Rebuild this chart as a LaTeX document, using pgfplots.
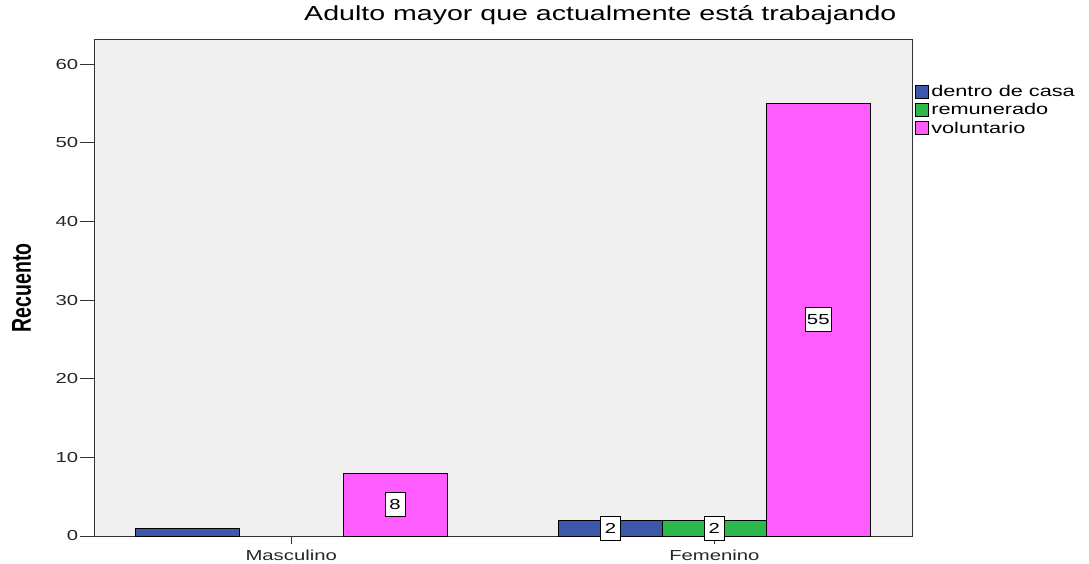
\documentclass[border=0pt]{standalone}
\usepackage{pgfplots}
\pgfplotsset{compat=1.18}
\usepackage{fontspec}
\setmainfont[FakeStretch=1.4]{Liberation Sans}
\newfontfamily\plainsans{Liberation Sans}
\definecolor{cblue}{HTML}{3D58AA}
\definecolor{cgreen}{HTML}{2DB84B}
\definecolor{cmag}{HTML}{FF5CFF}
\definecolor{bgc}{HTML}{F0F0F0}
\definecolor{axc}{HTML}{333333}
\begin{document}
\begin{tikzpicture}
\begin{axis}[
  at={(94pt,27pt)}, anchor=south west,
  scale only axis, width=818pt, height=496pt,
  xmin=-0.466, xmax=1.467,
  ymin=0, ymax=63.1,
  axis background/.style={fill=bgc},
  axis line style={axc, line width=1pt},
  xtick={0,1}, xticklabels={Masculino,Femenino},
  ytick={0,10,20,30,40,50,60},
  tick align=outside,
  tick pos=left,
  xtick style={axc, line width=1pt, /pgfplots/major tick length=8pt},
  ytick style={axc, line width=1pt, /pgfplots/major tick length=14pt},
  /pgf/number format/assume math mode=true,
  tick label style={font=\fontsize{14.5}{16}\selectfont, text=black!85},
  xticklabel style={yshift=-6pt},
  yticklabel style={xshift=-8pt},
  ylabel={\scalebox{1}[1.4]{\plainsans\bfseries\fontsize{19.5}{21}\selectfont Recuento}},
  ylabel style={at={(axis description cs:-0.0885,0.5)}, anchor=center},
  title={Adulto mayor que actualmente está trabajando},
  title style={at={(axis description cs:0.619,1)}, anchor=base, yshift=13pt, font=\fontsize{20.4}{22}\selectfont},
  legend style={draw=none, fill=none, at={(axis description cs:1.004,0.913)}, anchor=north west,
    font=\fontsize{15.5}{16}\selectfont, row sep=1.6pt, inner sep=0pt,
    /tikz/every even column/.append style={column sep=4pt}},
  legend cell align=left,
  legend image code/.code={\draw[#1, draw=black, line width=0.8pt] (0pt,-6.5pt) rectangle (13pt,6.5pt);},
  clip=false,
]
\addplot[ybar, bar width=0.2455, bar shift=-0.2455, fill=cblue, draw=black, line width=0.8pt]
  coordinates {(0,1) (1,2)};
\addlegendentry{dentro de casa}
\addplot[ybar, bar width=0.2455, bar shift=0, fill=cgreen, draw=black, line width=0.8pt]
  coordinates {(1,2)};
\addlegendentry{remunerado}
\addplot[ybar, bar width=0.2455, bar shift=0.2455, fill=cmag, draw=black, line width=0.8pt]
  coordinates {(0,8) (1,55)};
\addlegendentry{voluntario}
\addplot[draw=none, mark=none, forget plot, point meta=explicit symbolic,
  nodes near coords,
  every node near coord/.append style={anchor=center, fill=white, draw=black, line width=0.8pt,
    font=\fontsize{14.5}{16}\selectfont, inner sep=1.5pt, minimum height=24pt, minimum width=20pt}]
  coordinates {(0.2455,4) [8] (0.7545,1) [2] (1,1) [2] (1.2455,27.5) [55]};
\end{axis}
\pgfresetboundingbox
\path (0,0) rectangle (1089pt,563pt);
\end{tikzpicture}
\end{document}
